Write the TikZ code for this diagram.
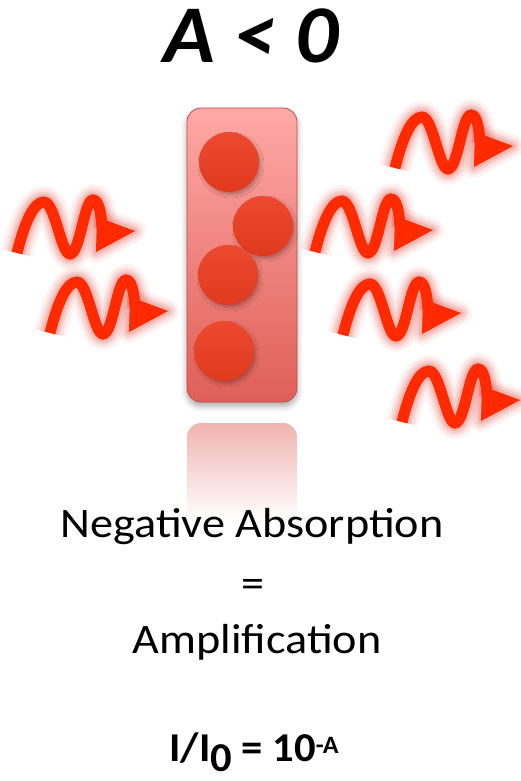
\documentclass[tikz,border=0pt]{standalone}
\usepackage{fontspec}
\setmainfont{Carlito}
\newfontfamily\widefont{Carlito}[FakeStretch=1.1]
\newfontfamily\headfont{Carlito}[FakeStretch=1.04]
\usetikzlibrary{shadows.blur}

\definecolor{waveRed}{HTML}{FF2A00}
\definecolor{glowRed}{HTML}{E0554A}
\definecolor{boxTop}{HTML}{FFA9A6}
\definecolor{boxBottom}{HTML}{DF5F57}
\definecolor{boxEdge}{HTML}{C0504D}
\definecolor{dotTop}{HTML}{EC4A30}
\definecolor{dotBottom}{HTML}{E03A1E}
\definecolor{reflTop}{HTML}{F1B3B0}

\tikzset{
  % one photon: a wavy line ending in a triangular head, with a soft halo
  photon/.pic={
    \foreach \w/\o in {32/0.07,26/0.10,21/0.14,16/0.20}{
      \draw[glowRed, opacity=\o, line width=\w pt, line join=round]
        (0,0) .. controls (8,-32) and (17,-51) .. (27,-51)
              .. controls (38,-51) and (44,1) .. (53,1)
              .. controls (63,1) and (67,-53) .. (76,-53)
              .. controls (82,-53) and (84,-40) .. (85,-26);
      \filldraw[glowRed, opacity=\o, line width=\w pt-10pt, line join=round]
        (79,-1) -- (80,-36) -- (118,-22) -- cycle;
    }
    \draw[waveRed, line width=11pt]
      (0,0) .. controls (8,-32) and (17,-51) .. (27,-51)
            .. controls (38,-51) and (44,1) .. (53,1)
            .. controls (63,1) and (67,-53) .. (76,-53)
            .. controls (82,-53) and (84,-40) .. (85,-26);
    \fill[waveRed] (79,-1) -- (80,-36) -- (118,-22) -- cycle;
  },
  cellbox/.style={draw=boxEdge, line width=0.8pt, rounded corners=14pt,
    top color=boxTop, bottom color=boxBottom,
    minimum width=110pt, minimum height=294pt, inner sep=0pt,
    blur shadow={shadow xshift=0pt, shadow yshift=-4pt, shadow blur radius=6pt,
      shadow opacity=35}},
  atom/.style={circle, minimum size=60pt, inner sep=0pt,
    top color=dotTop, bottom color=dotBottom,
    blur shadow={shadow xshift=2pt, shadow yshift=-3pt, shadow blur radius=3pt,
      shadow opacity=25}},
  label/.style={anchor=base, inner sep=0pt,
    font=\widefont\fontsize{42}{42}\selectfont}
}

\begin{document}
\begin{tikzpicture}[x=1pt, y=-1pt]
  \useasboundingbox (0,0) rectangle (520,781);

  % heading
  \node[anchor=base, inner sep=0pt] (title) at (251,63)
    {\headfont\fontsize{82}{82}\selectfont\bfseries\itshape A < 0};

  % faded mirror image of the sample cell
  \shade[top color=reflTop, bottom color=white]
    (187,520) [rounded corners=14pt] -- (187,423) -- (297,423)
    [sharp corners] -- (297,520) -- cycle;

  % sample cell with its excited atoms
  \node[cellbox] (cell) at (242,255) {};
  \node[atom] (a1) at (229,162) {};
  \node[atom] (a2) at (263,226) {};
  \node[atom] (a3) at (228,275) {};
  \node[atom] (a4) at (224,351) {};

  % incoming photons
  \pic at (17,253) {photon};
  \pic at (50,333) {photon};

  % outgoing photons
  \pic at (395,168) {photon};
  \pic at (315,252) {photon};
  \pic at (343,335) {photon};
  \pic at (402,422) {photon};

  % caption
  \node[label] (neg) at (252,537) {Negative Absorption};
  \node[label] (eq) at (253,597) {=};
  \node[label] (amp) at (257,653) {Amplification};

  % relation
  \node[anchor=base, inner sep=0pt] (law) at (254,761)
    {\headfont\fontsize{41}{41}\selectfont\bfseries
     I/I\raisebox{-10pt}{0} = 10\raisebox{8pt}{\fontsize{25}{25}\selectfont -A}};
\end{tikzpicture}
\end{document}
